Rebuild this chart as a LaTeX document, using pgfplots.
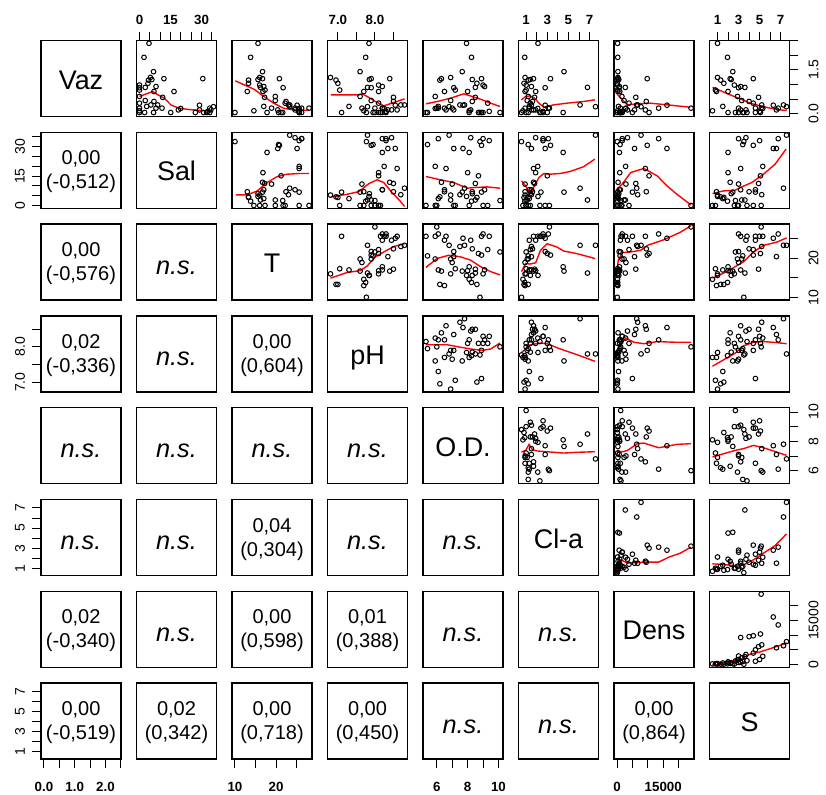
\documentclass[border=0pt]{standalone}
\usepackage{fontspec}
\setmainfont{Liberation Sans}
\usepackage{pgfplots}
\usepackage{pgfplotstable}
\pgfplotsset{compat=1.18}

% one row per sampling occasion
\pgfplotstableread{
Vaz  Sal  T    pH   OD    Cla  Dens  S
2.41 4.6  15.6 7.84 7.93  2.12 200   1.00
1.93 2.2  13.8 7.75 8.25  0.87 250   1.95
1.44 6.8  16.7 7.60 7.65  4.58 300   2.45
1.24 5.3  16.0 6.80 6.90  0.90 300   1.00
1.15 4.4  13.3 6.95 6.20  1.20 100   1.30
1.17 6.0  15.6 7.85 8.30  1.40 600   2.30
1.20 11.8 16.7 8.40 6.30  1.70 350   2.20
1.20 30.6 20.8 7.90 8.90  3.30 9800  4.40
0.98 0.0  16.0 8.10 9.00  1.00 150   2.60
0.89 0.0  21.7 7.90 7.10  2.80 700   3.00
0.81 0.0  17.3 7.05 7.20  1.00 200   0.80
0.90 2.8  16.2 7.80 8.50  6.80 2700  3.60
1.04 4.1  13.3 7.00 8.60  0.80 100   1.60
0.93 8.0  17.0 8.20 9.10  1.50 800   3.20
0.76 7.0  13.0 7.70 6.50  0.90 300   0.90
0.76 16.7 16.8 8.10 8.00  1.90 900   2.00
0.42 7.0  22.4 8.50 8.30  1.60 9500  4.00
0.59 0.0  19.8 7.60 5.90  1.20 1600  2.90
0.45 2.8  19.8 7.90 6.90  1.10 2300  3.30
0.56 11.2 17.2 8.50 8.50  1.80 6100  4.90
0.30 8.8  23.3 8.80 7.80  6.10 6400  7.27
0.36 0.0  22.2 8.10 9.30  1.40 3900  4.40
0.19 0.0  28.0 8.00 6.00  3.20 24000 5.15
0.19 8.0  24.6 8.20 6.50  1.30 1100  4.60
0.19 10.9 18.9 7.65 7.00  0.90 2900  3.00
0.04 2.5  21.6 8.00 10.10 1.00 1200  2.70
0.04 6.8  25.6 7.10 8.90  2.40 5000  4.60
0.04 15.1 21.2 8.10 8.70  3.00 10400 5.08
0.13 18.8 25.6 8.60 6.60  1.70 9200  3.20
0.18 19.9 25.6 8.25 5.90  2.10 2800  5.30
0.29 29.0 25.1 8.55 7.70  2.80 16200 6.30
0.04 27.0 17.8 8.20 8.10  4.50 800   2.00
0.13 29.0 20.4 8.35 7.10  1.50 5700  6.60
0.04 31.0 20.6 7.95 5.40  1.20 1000  3.40
0.04 32.5 10.0 7.77 8.80  0.56 100   3.50
0.04 34.0 26.2 8.30 9.00  2.60 1700  3.00
0.19 34.0 26.2 8.20 6.10  3.10 13500 6.77
0.24 35.8 23.3 7.80 6.80  7.56 7800  7.56
0.13 34.5 24.6 8.45 8.20  1.90 3400  3.70
0.04 0.0  25.6 8.15 5.30  2.30 1300  3.80
0.10 0.0  14.6 7.70 8.10  0.70 200   0.52
0.08 33.0 25.6 8.30 9.40  2.60 1700  5.00
0.25 3.5  17.0 7.30 6.10  1.30 500   1.50
0.30 5.5  23.0 8.70 7.50  1.50 6700  5.20
}\data

\pgfplotsset{
  scaled ticks=false,
  cell/.style 2 args={
    at={({(41+95.5*(#2-1))*0.75pt},{-(40.5+91.8*(#1-1))*0.75pt})},
    anchor=north west, scale only axis, width=60pt, height=57pt,
    axis line style={line width=0.95pt, black},
    xtick=\empty, ytick=\empty,
    tick align=outside, major tick length=6.4pt,
    every tick/.style={black, line width=0.7pt},
    clip=false,
    xticklabel style={anchor=center, inner sep=0pt, font=\fontsize{10}{12}\selectfont\bfseries},
    yticklabel style={anchor=center, inner sep=0pt, rotate=90, font=\fontsize{10.5}{12}\selectfont},
  },
  % plotting ranges of each variable (data range widened by 4% each side)
  xVaz/.style={xmin=-0.0964, xmax=2.5064}, yVaz/.style={ymin=-0.0964, ymax=2.5064},
  xSal/.style={xmin=-1.432, xmax=37.232},  ySal/.style={ymin=-1.432, ymax=37.232},
  xT/.style={xmin=9.28, xmax=28.72},       yT/.style={ymin=9.28, ymax=28.72},
  xpH/.style={xmin=6.72, xmax=8.88},       ypH/.style={ymin=6.72, ymax=8.88},
  xOD/.style={xmin=5.108, xmax=10.292},    yOD/.style={ymin=5.108, ymax=10.292},
  xCla/.style={xmin=0.28, xmax=7.84},      yCla/.style={ymin=0.28, ymax=7.84},
  xDens/.style={xmin=-960, xmax=24960},    yDens/.style={ymin=-960, ymax=24960},
  xS/.style={xmin=0.2384, xmax=7.8416},    yS/.style={ymin=0.2384, ymax=7.8416},
  % outer axes
  axtop/.style={xtick pos=right, xticklabel pos=right, xticklabel shift=9pt},
  axbot/.style={xtick pos=left, xticklabel pos=left, xticklabel shift=14.1pt},
  axleft/.style={ytick pos=left, yticklabel pos=left, yticklabel shift=9.35pt},
  axright/.style={ytick pos=right, yticklabel pos=right, yticklabel shift=11.6pt},
  tVazx/.style={xtick={0,0.5,1,1.5,2,2.5}, xticklabels={0.0,,1.0,,2.0,}},
  tTx/.style={xtick={10,15,20,25}, xticklabels={10,,20,}},
  tODx/.style={xtick={6,7,8,9,10}, xticklabels={6,,8,,10}},
  tDensx/.style={xtick={0,5000,10000,15000,20000}, xticklabels={0,,,15000,}},
  tSalx/.style={xtick={0,5,10,15,20,25,30,35}, xticklabels={0,,,15,,,30,}},
  tpHx/.style={xtick={7,7.5,8,8.5}, xticklabels={7.0,,8.0,}},
  tClax/.style={xtick={1,2,3,4,5,6,7}, xticklabels={1,,3,,5,,7}},
  tSx/.style={xtick={1,2,3,4,5,6,7}, xticklabels={1,,3,,5,,7}},
  tSaly/.style={ytick={0,5,10,15,20,25,30,35}, yticklabels={0,,,15,,,30,}},
  tpHy/.style={ytick={7,7.5,8,8.5}, yticklabels={7.0,,8.0,}},
  tClay/.style={ytick={1,2,3,4,5,6,7}, yticklabels={1,,3,,5,,7}},
  tSy/.style={ytick={1,2,3,4,5,6,7}, yticklabels={1,,3,,5,,7}},
  tVazy/.style={ytick={0,0.5,1,1.5,2,2.5}, yticklabels={0.0,,,1.5,,}},
  tTy/.style={ytick={10,15,20,25}, yticklabels={10,,20,}},
  tODy/.style={ytick={6,7,8,9,10}, yticklabels={6,,8,,10}},
  tDensy/.style={ytick={0,5000,10000,15000,20000}, yticklabels={0,,,15000,}},
  pts/.style={black, only marks, mark=o, mark size=1.75pt, mark options={line width=0.75pt}},
  lo/.style={red, line width=1.05pt, no markers},
}

% scatter cell: row, column, x variable, y variable, extra options, smooth curve
\newcommand\scattercell[6]{%
  \begin{axis}[cell={#1}{#2}, x#3, y#4, #5]
    \addplot[pts] table[x=#3, y=#4] {\data};
    \addplot[lo] coordinates {#6};
  \end{axis}}
% text cell: row, column, x variable, y variable, extra options, content
\newcommand\textcell[6]{%
  \begin{axis}[cell={#1}{#2}, x#3, y#4, #5]
    #6
  \end{axis}}
\newcommand\varname[1]{\node[anchor=base, yshift=-7.9pt, inner sep=0pt,
  font=\fontsize{20.2}{24}\selectfont] at (rel axis cs:0.5,0.5) {#1};}
\newcommand\notsig{\node[anchor=base, yshift=-9pt, inner sep=0pt,
  font=\fontsize{19}{22}\selectfont\itshape] at (rel axis cs:0.5,0.5) {n.s.};}
\newcommand\pval[2]{%
  \node[anchor=base, yshift=4.1pt, inner sep=0pt, font=\fontsize{15}{18}\selectfont]
    at (rel axis cs:0.5,0.5) {#1};
  \node[anchor=base, yshift=-13.9pt, inner sep=0pt, font=\fontsize{15}{18}\selectfont]
    at (rel axis cs:0.5,0.5) {#2};}

\begin{document}
\begin{tikzpicture}
\path[use as bounding box] (0,0) rectangle (619.5pt,-595.5pt);

% ---- row 1: Vaz
\textcell{1}{1}{Vaz}{Vaz}{}{\varname{Vaz}}
\scattercell{1}{2}{Sal}{Vaz}{axtop,tSalx}{(0,0.59) (4.1,0.70) (6.5,0.76) (8.8,0.65) (12,0.53) (15.2,0.30) (19.1,0.19) (23,0.15) (29.4,0.11) (35.3,0.075)}
\scattercell{1}{3}{T}{Vaz}{}{(10.08,1.125) (12.23,0.988) (14.62,0.84) (17.01,0.589) (19.4,0.36) (21.79,0.189) (24.18,0.132) (26.57,0.109) (28,0.132)}
\scattercell{1}{4}{pH}{Vaz}{axtop,tpHx}{(6.81,0.646) (7.568,0.646) (7.657,0.68) (7.791,0.589) (8.014,0.417) (8.237,0.269) (8.46,0.36) (8.8,0.509)}
\scattercell{1}{5}{OD}{Vaz}{}{(5.3,0.338) (6.02,0.417) (6.89,0.532) (7.75,0.68) (8.3,0.589) (8.95,0.475) (9.49,0.36) (10.1,0.246)}
\scattercell{1}{6}{Cla}{Vaz}{axtop,tClax}{(0.56,0.475) (0.96,0.589) (1.37,0.611) (1.8,0.532) (2.21,0.36) (2.68,0.223) (3.61,0.303) (4.85,0.36) (6.41,0.417) (7.5,0.475)}
\scattercell{1}{7}{Dens}{Vaz}{}{(0,0.669) (1813,0.475) (3413,0.303) (6613,0.338) (10880,0.36) (16213,0.303) (23680,0.223)}
\scattercell{1}{8}{S}{Vaz}{axtop,tSx,axright,tVazy}{(0.52,0.9) (1.25,0.794) (2.2,0.646) (3.15,0.509) (4.1,0.36) (5.05,0.269) (6.0,0.189) (6.95,0.132) (7.56,0.109)}

% ---- row 2: Sal
\textcell{2}{1}{Vaz}{Sal}{axleft,tSaly}{\pval{0,00}{(-0,512)}}
\textcell{2}{2}{Sal}{Sal}{}{\varname{Sal}}
\scattercell{2}{3}{T}{Sal}{}{(10.24,5.4) (13.0,5.4) (15.4,7.4) (17.8,11.7) (20.2,14.6) (22.6,15.9) (25.8,16.3) (28,16.3)}
\scattercell{2}{4}{pH}{Sal}{}{(6.81,4.36) (7.256,5.72) (7.568,7.08) (7.84,11.17) (8.06,13.05) (8.24,11.68) (8.46,6.57) (8.68,2.32) (8.8,-0.5)}
\scattercell{2}{5}{OD}{Sal}{}{(5.3,14.75) (6.24,13.05) (7.1,11.68) (7.97,8.79) (8.4,9.13) (9.27,9.47) (10.1,8.79)}
\scattercell{2}{6}{Cla}{Sal}{}{(0.56,12.54) (0.96,9.98) (1.37,6.06) (1.8,9.98) (2.21,14.24) (2.68,16.28) (3.3,15.94) (4.23,16.28) (5.16,17.3) (6.41,19.69) (7.5,23.6)}
\scattercell{2}{7}{Dens}{Sal}{}{(0,8.28) (1813,11.17) (4480,16.79) (8747,18.84) (13013,15.09) (16213,9.98) (19413,5.72) (24000,0.27)}
\scattercell{2}{8}{S}{Sal}{}{(0.52,6.06) (1.57,7.42) (2.68,7.77) (3.15,9.13) (4.26,11.68) (5.37,15.94) (6.48,21.05) (7.52,28.72)}

% ---- row 3: T
\textcell{3}{1}{Vaz}{T}{}{\pval{0,00}{(-0,576)}}
\textcell{3}{2}{Sal}{T}{}{\notsig}
\textcell{3}{3}{T}{T}{}{\varname{T}}
\scattercell{3}{4}{pH}{T}{}{(6.8,14.89) (7.24,16.32) (7.6,16.82) (7.79,17.99) (8.01,20.34) (8.24,21.6) (8.52,23.02) (8.8,23.69)}
\scattercell{3}{5}{OD}{T}{}{(5.3,17.66) (6.02,19.92) (6.78,20.76) (7.54,20.34) (8.19,19.5) (8.84,17.83) (9.49,16.57) (10.1,15.73)}
\scattercell{3}{6}{Cla}{T}{}{(0.56,16.57) (0.96,18.66) (1.37,18.5) (1.9,18.83) (2.36,22.02) (2.99,23.69) (3.92,22.85) (4.54,21.85) (5.79,21.18) (7.5,19.92)}
\scattercell{3}{7}{Dens}{T}{}{(0,16.57) (427,19.5) (1813,21.43) (4480,21.6) (7680,22.02) (9813,23.27) (15147,24.7) (20480,26.62) (24000,28.3)}
\scattercell{3}{8}{S}{T}{axright,tTy}{(0.52,14.89) (1.57,16.15) (2.68,17.83) (3.47,19.08) (4.42,21.6) (5.37,23.27) (6.64,24.11) (7.56,25.2)}

% ---- row 4: pH
\textcell{4}{1}{Vaz}{pH}{axleft,tpHy}{\pval{0,02}{(-0,336)}}
\textcell{4}{2}{Sal}{pH}{}{\notsig}
\textcell{4}{3}{T}{pH}{}{\pval{0,00}{(0,604)}}
\textcell{4}{4}{pH}{pH}{}{\varname{pH}}
\scattercell{4}{5}{OD}{pH}{}{(5.3,8.06) (6.67,8.06) (7.54,7.99) (8.19,7.94) (8.95,7.9) (9.49,7.94) (10.1,8.11)}
\scattercell{4}{6}{Cla}{pH}{}{(0.56,7.84) (0.96,7.94) (1.43,8.06) (2.36,8.11) (2.99,8.09) (4.23,7.94) (5.79,7.78) (7.5,7.59)}
\scattercell{4}{7}{Dens}{pH}{}{(0,7.73) (427,7.87) (1493,8.11) (2880,8.25) (5547,8.13) (8747,8.09) (13013,8.15) (19413,8.13) (24000,8.13)}
\scattercell{4}{8}{S}{pH}{}{(0.52,7.45) (1.57,7.63) (2.68,7.82) (3.47,8.03) (4.42,8.13) (5.37,8.15) (6.32,8.13) (7.56,8.09)}

% ---- row 5: O.D.
\textcell{5}{1}{Vaz}{OD}{}{\notsig}
\textcell{5}{2}{Sal}{OD}{}{\notsig}
\textcell{5}{3}{T}{OD}{}{\notsig}
\textcell{5}{4}{pH}{OD}{}{\notsig}
\textcell{5}{5}{OD}{OD}{}{\varname{O.D.}}
\scattercell{5}{6}{Cla}{OD}{}{(0.56,7.27) (0.96,7.38) (1.28,7.79) (1.59,7.43) (2.05,7.34) (3.3,7.27) (4.54,7.2) (5.79,7.25) (7.5,7.29)}
\scattercell{5}{7}{Dens}{OD}{}{(0,7.15) (427,7.38) (1493,7.27) (3413,7.38) (6613,7.84) (8747,7.88) (13547,7.56) (19413,7.79) (24000,7.84)}
\scattercell{5}{8}{S}{OD}{axright,tODy}{(0.52,6.93) (1.57,7.15) (2.68,7.38) (3.47,7.5) (4.42,7.72) (5.37,7.56) (6.32,7.34) (7.56,7.04)}

% ---- row 6: Cl-a
\textcell{6}{1}{Vaz}{Cla}{axleft,tClay}{\notsig}
\textcell{6}{2}{Sal}{Cla}{}{\notsig}
\textcell{6}{3}{T}{Cla}{}{\pval{0,04}{(0,304)}}
\textcell{6}{4}{pH}{Cla}{}{\notsig}
\textcell{6}{5}{OD}{Cla}{}{\notsig}
\textcell{6}{6}{Cla}{Cla}{}{\varname{Cl-a}}
\scattercell{6}{7}{Dens}{Cla}{}{(200,1.44) (1280,1.84) (3413,1.51) (8747,1.61) (13547,1.61) (16747,2.1) (20480,2.5) (24000,3.1)}
\scattercell{6}{8}{S}{Cla}{}{(0.52,1.44) (1.57,1.37) (2.68,1.27) (3.47,1.34) (4.42,1.84) (5.37,2.5) (6.48,3.26) (7.56,4.42)}

% ---- row 7: Dens
\textcell{7}{1}{Vaz}{Dens}{}{\pval{0,02}{(-0,340)}}
\textcell{7}{2}{Sal}{Dens}{}{\notsig}
\textcell{7}{3}{T}{Dens}{}{\pval{0,00}{(0,598)}}
\textcell{7}{4}{pH}{Dens}{}{\pval{0,01}{(0,388)}}
\textcell{7}{5}{OD}{Dens}{}{\notsig}
\textcell{7}{6}{Cla}{Dens}{}{\notsig}
\textcell{7}{7}{Dens}{Dens}{}{\varname{Dens}}
\scattercell{7}{8}{S}{Dens}{axright,tDensy}{(0.52,-150) (1.25,-150) (2.2,939) (3.15,1721) (4.1,3509) (5.05,4291) (6.0,5408) (6.95,6525) (7.56,7400)}

% ---- row 8: S
\textcell{8}{1}{Vaz}{S}{axleft,tSy,axbot,tVazx}{\pval{0,00}{(-0,519)}}
\textcell{8}{2}{Sal}{S}{}{\pval{0,02}{(0,342)}}
\textcell{8}{3}{T}{S}{axbot,tTx}{\pval{0,00}{(0,718)}}
\textcell{8}{4}{pH}{S}{}{\pval{0,00}{(0,450)}}
\textcell{8}{5}{OD}{S}{axbot,tODx}{\notsig}
\textcell{8}{6}{Cla}{S}{}{\notsig}
\textcell{8}{7}{Dens}{S}{axbot,tDensx}{\pval{0,00}{(0,864)}}
\textcell{8}{8}{S}{S}{}{\varname{S}}
\end{tikzpicture}
\end{document}
